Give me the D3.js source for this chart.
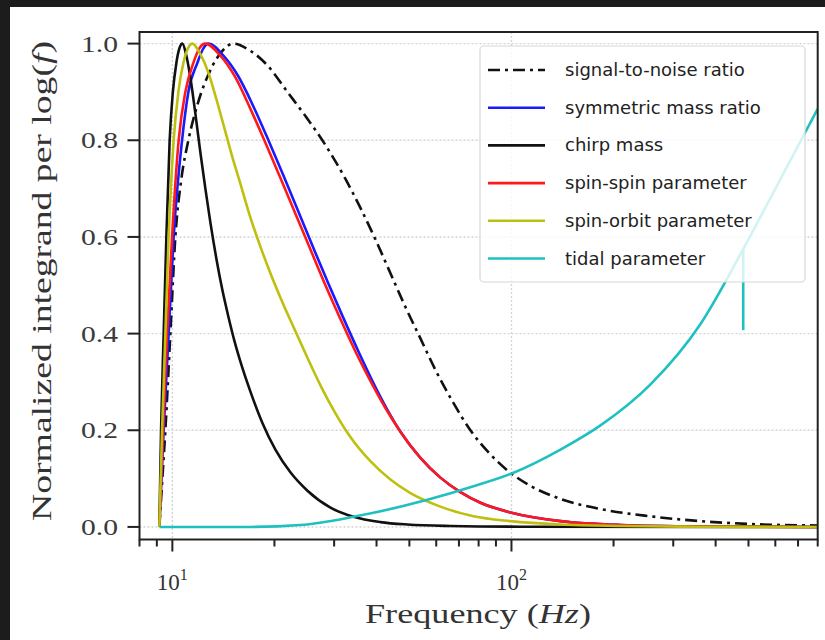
<!DOCTYPE html>
<html><head><meta charset="utf-8">
<script src="https://cdn.jsdelivr.net/npm/d3@7"></script>
<style>html,body{margin:0;padding:0;background:#1c1c1c;} svg{display:block}</style>
</head><body><svg id="c" width="825" height="640"></svg>
<script>
// ---------- data ----------
const seriesNames = ["signal-to-noise ratio","symmetric mass ratio","chirp mass","spin-spin parameter","spin-orbit parameter","tidal parameter"];
const seriesColors = ["#111111","#1a1aff","#111111","#ff1a1a","#bfbf10","#20c0c0"];

const snrF = [9.155, 9.344, 9.536, 9.865, 10.206, 10.63, 11.149, 11.931, 12.944, 14.045, 15.137, 16.99, 19.07, 21.84, 24.69, 28.28, 32.39, 35.86, 39.70, 43.96, 48.68, 53.89, 59.67, 66.97, 75.69, 86.70, 97.32, 113.8, 139.5, 183.0, 257.1, 361.0, 507.0, 800];
const snrV = [0, 0.1, 0.2, 0.4, 0.6, 0.72, 0.8, 0.88, 0.945, 0.985, 1.0, 0.985, 0.955, 0.9, 0.85, 0.79, 0.72, 0.66, 0.595, 0.525, 0.455, 0.39, 0.325, 0.26, 0.2, 0.15, 0.117, 0.085, 0.058, 0.037, 0.022, 0.012, 0.006, 0.003];

const etaF = [9.155, 9.427, 9.752, 10.089, 10.681, 11.149, 11.850, 12.343, 12.770, 14.140, 15.66, 17.34, 19.20, 21.26, 23.54, 26.06, 28.86, 31.95, 35.38, 38.90, 42.78, 47.06, 53.89, 61.73, 70.72, 81.03, 99.32, 139.5, 209.7, 361.0, 800];
const etaV = [0, 0.2, 0.4, 0.6, 0.8, 0.9, 0.96, 0.99, 1.0, 0.975, 0.932, 0.87, 0.8, 0.727, 0.652, 0.577, 0.503, 0.432, 0.363, 0.302, 0.246, 0.197, 0.143, 0.102, 0.072, 0.05, 0.03, 0.012, 0.004, 0.001, 0];

const mcF = [9.155, 9.262, 9.427, 9.601, 9.818, 10.034, 10.276, 10.487, 10.703, 10.998, 11.30, 11.691, 12.094, 12.512, 12.944, 13.484, 14.045, 14.63, 15.24, 15.875, 16.99, 18.43, 20.13, 22.29, 25.02, 29.26, 34.19, 41.07, 49.35, 66.07, 106.3, 800];
const mcV = [0, 0.2, 0.4, 0.6, 0.8, 0.9, 0.96, 0.99, 1.0, 0.975, 0.93, 0.855, 0.775, 0.7, 0.63, 0.555, 0.49, 0.435, 0.385, 0.342, 0.28, 0.215, 0.16, 0.113, 0.075, 0.04, 0.021, 0.01, 0.005, 0.002, 0.0005, 0];

const ssF = [9.155, 9.388, 9.647, 9.980, 10.437, 10.923, 11.533, 12.012, 12.512, 13.856, 15.345, 16.99, 18.81, 20.83, 23.06, 25.54, 28.28, 31.31, 34.66, 38.37, 42.49, 47.06, 53.89, 61.73, 70.72, 81.03, 99.32, 139.5, 209.7, 361.0, 800];
const ssV = [0, 0.2, 0.4, 0.6, 0.8, 0.9, 0.96, 0.99, 1.0, 0.975, 0.93, 0.865, 0.795, 0.722, 0.648, 0.574, 0.5, 0.43, 0.363, 0.302, 0.246, 0.197, 0.143, 0.102, 0.072, 0.05, 0.03, 0.012, 0.004, 0.001, 0];

const soF = [9.155, 9.325, 9.536, 9.752, 10.089, 10.416, 10.776, 11.111, 11.455, 12.094, 12.770, 13.484, 14.237, 15.03, 15.875, 16.99, 18.18, 19.46, 21.11, 23.06, 25.02, 27.33, 30.27, 33.50, 38.37, 43.96, 50.36, 61.73, 77.25, 99.32, 139.5, 209.7, 361.0, 800];
const soV = [0, 0.2, 0.4, 0.6, 0.8, 0.9, 0.96, 0.99, 1.0, 0.978, 0.94, 0.885, 0.825, 0.765, 0.71, 0.64, 0.58, 0.525, 0.465, 0.405, 0.35, 0.293, 0.235, 0.186, 0.136, 0.098, 0.07, 0.042, 0.022, 0.012, 0.005, 0.002, 0.0005, 0];

const tidF = [9.155, 16.99, 23.85, 34.19, 56.51, 77.25, 101.37, 139.5, 183.0, 257.1, 361.0, 482.5, 621.7, 800];
const tidV = [0, 0, 0.004, 0.021, 0.056, 0.084, 0.112, 0.16, 0.21, 0.295, 0.42, 0.575, 0.72, 0.865];
const tidSpikeF = [482.5, 482.5];
const tidSpikeV = [0.575, 0.407];

const xTickVals = [10, 100];
const xTickExp = ["1", "2"];
const yTickVals = [0, 0.2, 0.4, 0.6, 0.8, 1.0];
const yTickLabels = ["0.0", "0.2", "0.4", "0.6", "0.8", "1.0"];

// ---------- layout ----------
const svg = d3.select("#c");
svg.append("rect").attr("x",10).attr("y",7).attr("width",815).attr("height",633).attr("fill","#fff");

const L = 139.5, R = 817.7, T = 32, B = 539.5;
const x = d3.scaleLog().domain([8, 800]).range([L, R]);
const y = d3.scaleLinear().domain([-0.026, 1.024]).range([B, T]);

const serif = "'Liberation Serif','Times New Roman',serif";
const sans = "'DejaVu Sans',sans-serif";

// grid
const grid = svg.append("g").attr("stroke","#d4d4d4").attr("stroke-width",1.4).attr("stroke-dasharray","2,2");
xTickVals.forEach(v => grid.append("line").attr("x1",x(v)).attr("x2",x(v)).attr("y1",T).attr("y2",B));
yTickVals.forEach(v => grid.append("line").attr("x1",L).attr("x2",R).attr("y1",y(v)).attr("y2",y(v)));

// clip
svg.append("clipPath").attr("id","clip").append("rect").attr("x",L).attr("y",T).attr("width",R-L).attr("height",B-T);
const plot = svg.append("g").attr("clip-path","url(#clip)");

const line = d3.line().x(d=>x(d[0])).y(d=>y(d[1])).curve(d3.curveMonotoneX);
const lineLin = d3.line().x(d=>x(d[0])).y(d=>y(d[1]));
const zip = (F,V) => F.map((f,i)=>[f,V[i]]);

const draw = (F,V,color,dash,gen) => plot.append("path").attr("d",(gen||line)(zip(F,V)))
  .attr("fill","none").attr("stroke",color).attr("stroke-width",2.6)
  .attr("stroke-linejoin","round").attr("stroke-dasharray",dash||null);

const ddash = "12,5,3,5";
draw(snrF, snrV, seriesColors[0], ddash);
draw(etaF, etaV, seriesColors[1]);
draw(mcF, mcV, seriesColors[2]);
draw(ssF, ssV, seriesColors[3]);
draw(soF, soV, seriesColors[4]);
draw(tidF, tidV, seriesColors[5]);
draw(tidSpikeF, tidSpikeV, seriesColors[5], null, lineLin);

// frame
svg.append("rect").attr("x",L).attr("y",T).attr("width",R-L).attr("height",B-T)
  .attr("fill","none").attr("stroke","#222").attr("stroke-width",2);

// x ticks (major + minor)
const xt = svg.append("g").attr("stroke","#222").attr("stroke-width",2);
const minor = [8, 9];
for (let k=2;k<=9;k++) minor.push(k*10);
for (let k=2;k<=8;k++) minor.push(k*100);
minor.forEach(v => xt.append("line").attr("x1",x(v)).attr("x2",x(v)).attr("y1",B).attr("y2",B+7));
xTickVals.forEach(v => xt.append("line").attr("x1",x(v)).attr("x2",x(v)).attr("y1",B).attr("y2",B+12));

xTickVals.forEach((v,i) => {
  const t = svg.append("text").attr("x",x(v)).attr("y",590).attr("text-anchor","middle")
    .attr("font-family",serif).attr("font-size",23).attr("fill","#333");
  t.append("tspan").text("10");
  t.append("tspan").attr("dy",-10).attr("font-size",16).text(xTickExp[i]);
});

// y ticks
const yt = svg.append("g").attr("stroke","#222").attr("stroke-width",2);
yTickVals.forEach(v => yt.append("line").attr("x1",L-12).attr("x2",L).attr("y1",y(v)).attr("y2",y(v)));
yTickVals.forEach((v,i) => svg.append("text").attr("x",118).attr("y",y(v)+8).attr("text-anchor","end")
  .attr("font-family",serif).attr("font-size",23).attr("fill","#3a3a3a")
  .attr("textLength",37).attr("lengthAdjust","spacingAndGlyphs").text(yTickLabels[i]));

// axis labels
const xl = svg.append("text").attr("x",478).attr("y",623).attr("text-anchor","middle")
  .attr("font-family",serif).attr("font-size",28).attr("fill","#333")
  .attr("textLength",226).attr("lengthAdjust","spacingAndGlyphs");
xl.append("tspan").text("Frequency (");
xl.append("tspan").attr("font-style","italic").text("Hz");
xl.append("tspan").text(")");

const yl = svg.append("text").attr("transform","translate(51,281) rotate(-90)").attr("text-anchor","middle")
  .attr("font-family",serif).attr("font-size",27).attr("fill","#333")
  .attr("textLength",480).attr("lengthAdjust","spacingAndGlyphs");
yl.append("tspan").text("Normalized integrand per log(");
yl.append("tspan").attr("font-style","italic").text("f");
yl.append("tspan").text(")");

// legend
const lg = svg.append("g");
lg.append("rect").attr("x",480).attr("y",46).attr("width",325).attr("height",236).attr("rx",4)
  .attr("fill","#fff").attr("fill-opacity",0.8).attr("stroke","#d8d8d8").attr("stroke-width",1.2);
seriesNames.forEach((n,i) => {
  const yy = 70 + i*37.7;
  lg.append("line").attr("x1",488).attr("x2",545).attr("y1",yy).attr("y2",yy)
    .attr("stroke",seriesColors[i]).attr("stroke-width",2.6)
    .attr("stroke-dasharray", i===0 ? ddash : null);
  lg.append("text").attr("x",565).attr("y",yy+6).attr("font-family",sans).attr("font-size",18)
    .attr("fill","#222").text(n);
});
</script></body></html>
